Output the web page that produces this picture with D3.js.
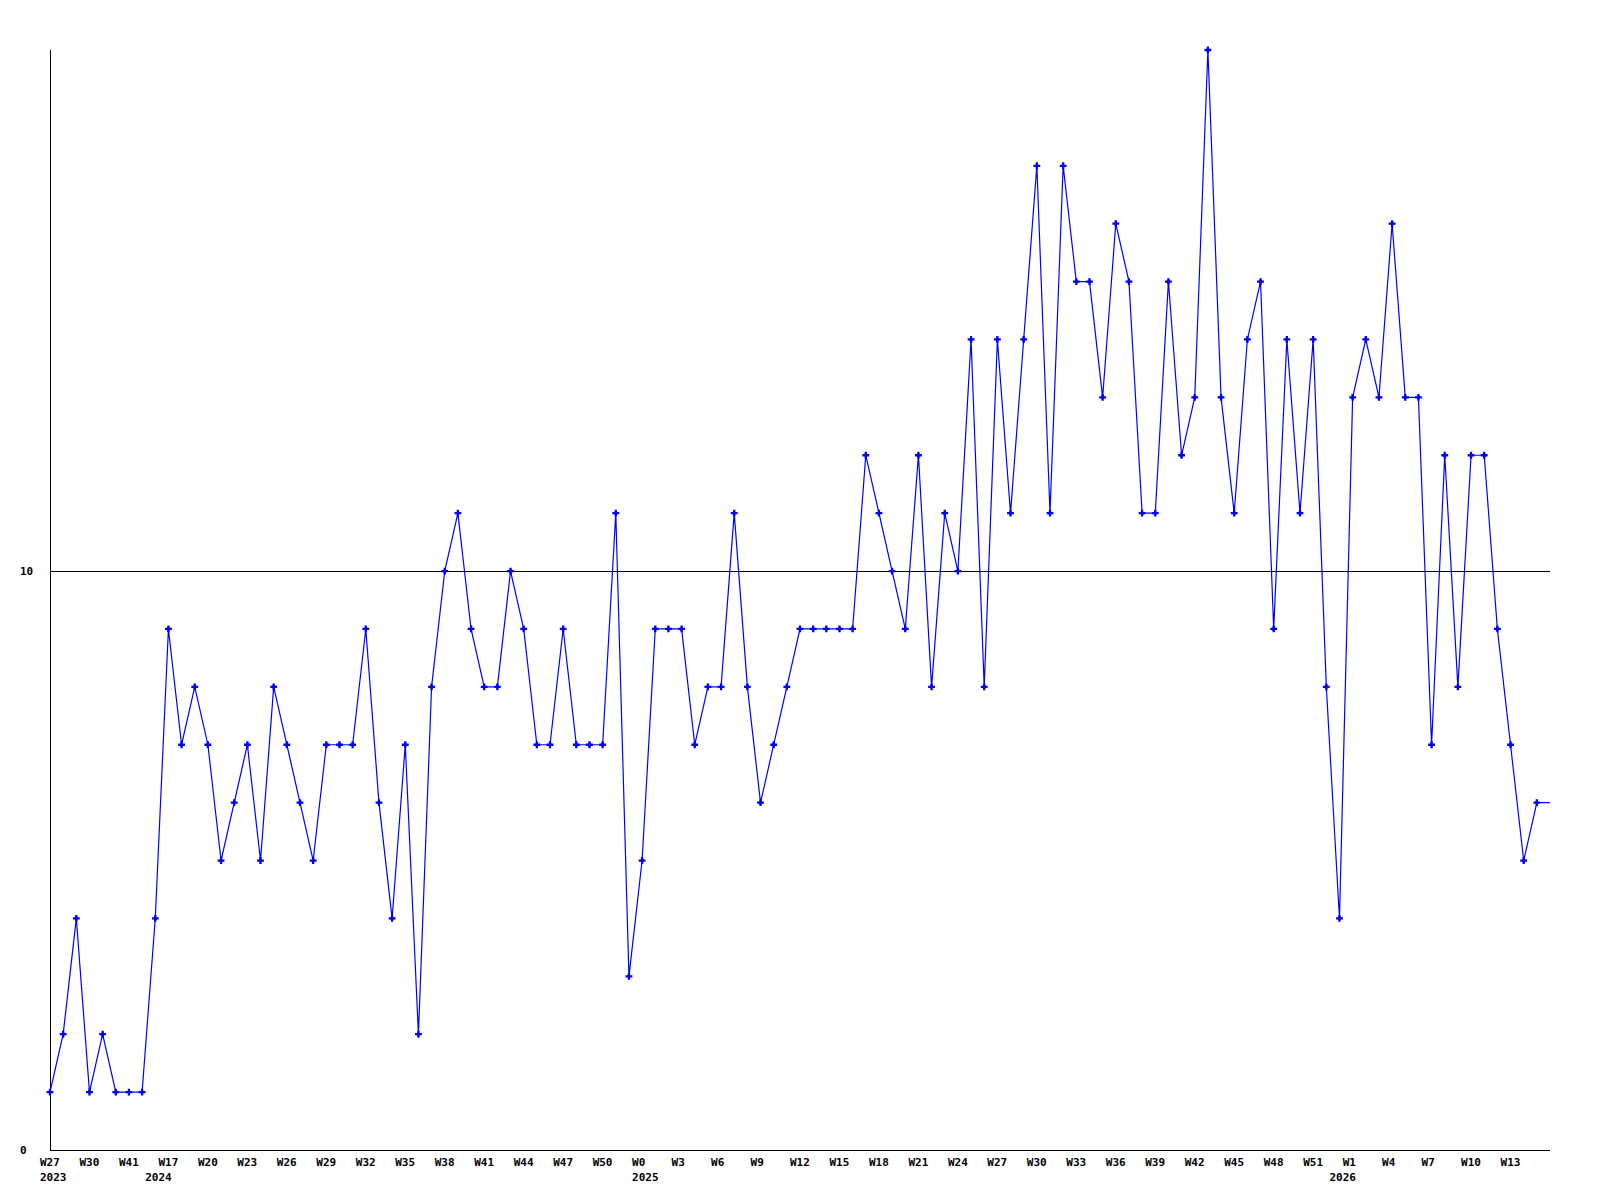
<!DOCTYPE html>
<html>
<head>
<meta charset="utf-8">
<script src="https://cdn.jsdelivr.net/npm/d3@7"></script>
<style>
  html, body { margin: 0; padding: 0; background: #fff; }
  .chart text { font-family: "DejaVu Sans Mono", monospace; font-size: 11px; font-weight: bold; fill: #000; }
</style>
</head>
<body>
<div class="chart"></div>
<script>
// ----- DATA ------------------------------------------------------------
// weekly counts, one per point (oldest first)
const values = [
    1, 2, 4, 1, 2, 1, 1, 1, 4, 9,
    7, 8, 7, 5, 6, 7, 5, 8, 7, 6,
    5, 7, 7, 7, 9, 6, 4, 7, 2, 8,
    10, 11, 9, 8, 8, 10, 9, 7, 7, 9,
    7, 7, 7, 11, 3, 5, 9, 9, 9, 7,
    8, 8, 11, 8, 6, 7, 8, 9, 9, 9,
    9, 9, 12, 11, 10, 9, 12, 8, 11, 10,
    14, 8, 14, 11, 14, 17, 11, 17, 15, 15,
    13, 16, 15, 11, 11, 15, 12, 13, 19, 13,
    11, 14, 15, 9, 14, 11, 14, 8, 4, 13,
    14, 13, 16, 13, 13, 7, 12, 8, 12, 12,
    9, 7, 5, 6, 6
];

// a week label on every third point
const tickLabels = [
    "W27", "W30", "W41", "W17", "W20", "W23", "W26", "W29", "W32", "W35",
    "W38", "W41", "W44", "W47", "W50", "W0", "W3", "W6", "W9", "W12",
    "W15", "W18", "W21", "W24", "W27", "W30", "W33", "W36", "W39", "W42",
    "W45", "W48", "W51", "W1", "W4", "W7", "W10", "W13"
];
const tickEvery = 3;

const years = ["2023", "2024", "2025", "2026"];
const yearStart = [0, 8, 45, 98];   // point index where each year begins

const yTicks = [0, 10];
const yMax = 19;

// ----- DRAW -------------------------------------------------------------
const width = 1600, height = 1200;
const margin = { top: 50, right: 50, bottom: 50, left: 50 };

const svg = d3.select(".chart").append("svg")
    .attr("width", width)
    .attr("height", height);

const x = d3.scalePoint()
    .domain(d3.range(values.length))
    .range([margin.left, width - margin.right]);

const y = d3.scaleLinear()
    .domain([0, yMax])
    .range([height - margin.bottom, margin.top]);

// horizontal rule at 10
svg.selectAll(".grid")
    .data(yTicks.filter(t => t > 0))
    .enter()
        .append("line")
        .attr("x1", margin.left)
        .attr("x2", width - margin.right)
        .attr("y1", d => Math.round(y(d)) + 0.5)
        .attr("y2", d => Math.round(y(d)) + 0.5)
        .attr("stroke", "#000")
        .attr("stroke-width", 1);

// axes lines
svg.append("line")
    .attr("x1", margin.left + 0.5).attr("x2", margin.left + 0.5)
    .attr("y1", y(yMax)).attr("y2", y(0))
    .attr("stroke", "#000");

svg.append("line")
    .attr("x1", margin.left).attr("x2", width - margin.right)
    .attr("y1", Math.round(y(0)) + 0.5).attr("y2", Math.round(y(0)) + 0.5)
    .attr("stroke", "#000");

// y labels
svg.selectAll(".yLabel")
    .data(yTicks)
    .enter()
        .append("text")
        .attr("x", 20)
        .attr("y", d => y(d))
        .attr("dy", "0.35em")
        .text(d => d);

// x labels (start a little left of the point)
svg.selectAll(".xLabel")
    .data(tickLabels)
    .enter()
        .append("text")
        .attr("x", (d, i) => x(i * tickEvery) - 10)
        .attr("y", height - margin.bottom + 16)
        .text(d => d);

svg.selectAll(".yearLabel")
    .data(years)
    .enter()
        .append("text")
        .attr("x", (d, i) => x(yearStart[i]) - 10)
        .attr("y", height - margin.bottom + 31)
        .text(d => d);

// the series
const line = d3.line()
    .x((d, i) => x(i))
    .y(d => y(d));

svg.append("path")
    .datum(values)
    .attr("fill", "none")
    .attr("stroke", "#0000ff")
    .attr("stroke-width", 1.2)
    .attr("d", line);

// markers: cross over a small diamond (last point sits on the frame edge, no marker)
const markers = svg.selectAll(".marker")
    .data(values.slice(0, values.length - 1))
    .enter()
        .append("g")
        .attr("transform", (d, i) => "translate(" + x(i) + "," + y(d) + ")");

markers.append("path")
    .attr("d", d3.symbol().type(d3.symbolCross).size(26))
    .attr("fill", "#0000ff");

markers.append("path")
    .attr("d", d3.symbol().type(d3.symbolDiamond).size(12))
    .attr("fill", "#0000ff");
</script>
</body>
</html>
